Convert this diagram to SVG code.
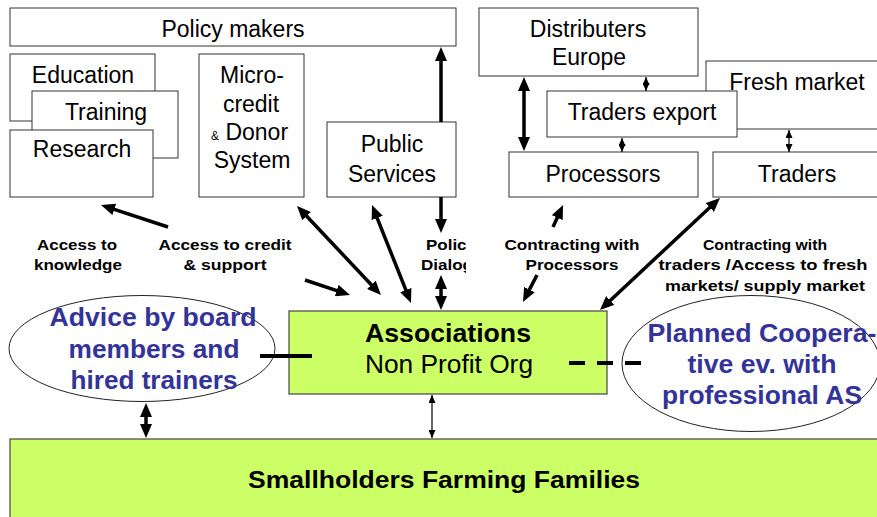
<svg xmlns="http://www.w3.org/2000/svg" width="877" height="517" viewBox="0 0 877 517">
<style>
.box{fill:#fff;stroke:#333;stroke-width:1}
.green{fill:#ccff66;stroke:#444;stroke-width:1.2}
.ellipse{fill:#fff;stroke:#222;stroke-width:1}
.lbl{font-family:"Liberation Sans",Arial,sans-serif;font-size:23px;fill:#000;text-anchor:middle}
.sm{font-family:"Liberation Sans",Arial,sans-serif;font-size:15px;font-weight:bold;fill:#000;text-anchor:middle}
.ell{font-family:"Liberation Sans",Arial,sans-serif;font-size:25px;font-weight:bold;fill:#333399;text-anchor:middle}
.big{font-family:"Liberation Sans",Arial,sans-serif;font-size:25px;fill:#000;text-anchor:middle}
.thick{stroke:#000;stroke-width:3.5;fill:none;marker-end:url(#ah)}
.dbl{marker-start:url(#ah)}
.thin{stroke:#000;stroke-width:1.2;fill:none;marker-start:url(#sh);marker-end:url(#sh)}
</style>
<defs>
<marker id="ah" viewBox="0 0 14 12" refX="4" refY="6" markerWidth="14" markerHeight="12" markerUnits="userSpaceOnUse" orient="auto-start-reverse">
<path d="M0,0 L14,6 L0,12 z" fill="#000"/>
</marker>
<marker id="sh" viewBox="0 0 8 7" refX="8" refY="3.5" markerWidth="8" markerHeight="7" markerUnits="userSpaceOnUse" orient="auto-start-reverse">
<path d="M0,0 L8,3.5 L0,7 z" fill="#000"/>
</marker>
<clipPath id="clipPol"><rect x="400" y="230" width="66" height="50"/></clipPath>
</defs>

<g id="policy-makers"><rect class="box" x="10" y="8" width="446" height="38"/><text class="lbl" x="233" y="37">Policy makers</text></g>
<g id="education"><rect class="box" x="10" y="54" width="145" height="67"/><text class="lbl" x="83" y="83">Education</text></g>
<g id="training"><rect class="box" x="32" y="91" width="146" height="67"/><text class="lbl" x="106" y="120">Training</text></g>
<g id="research"><rect class="box" x="10" y="130" width="143" height="67"/><text class="lbl" x="82" y="157">Research</text></g>
<g id="microcredit"><rect class="box" x="199" y="54" width="105" height="143"/>
<text class="lbl" x="252" y="83">Micro-</text><text class="lbl" x="251" y="112">credit</text>
<text class="lbl" x="211" y="140" style="text-anchor:start"><tspan font-size="12">&amp;</tspan> Donor</text>
<text class="lbl" x="252" y="168">System</text></g>
<g id="public-services"><rect class="box" x="327" y="122" width="129" height="75"/><text class="lbl" x="392" y="152">Public</text><text class="lbl" x="392" y="182">Services</text></g>
<g id="distributers"><rect class="box" x="479" y="8" width="219" height="68"/><text class="lbl" x="588" y="37">Distributers</text><text class="lbl" x="589" y="65">Europe</text></g>
<g id="fresh-market"><rect class="box" x="706" y="61" width="180" height="68"/><text class="lbl" x="797" y="90">Fresh market</text></g>
<g id="traders-export"><rect class="box" x="547" y="91" width="190" height="46"/><text class="lbl" x="642" y="120">Traders export</text></g>
<g id="processors"><rect class="box" x="509" y="152" width="189" height="45"/><text class="lbl" x="603" y="182">Processors</text></g>
<g id="traders"><rect class="box" x="713" y="152" width="170" height="45"/><text class="lbl" x="797" y="182">Traders</text></g>

<g id="label-knowledge"><text class="sm" x="77" y="250" textLength="80" lengthAdjust="spacingAndGlyphs">Access to</text><text class="sm" x="78" y="270" textLength="88" lengthAdjust="spacingAndGlyphs">knowledge</text></g>
<g id="label-credit"><text class="sm" x="225" y="250" textLength="133" lengthAdjust="spacingAndGlyphs">Access to credit</text><text class="sm" x="225" y="270" textLength="83" lengthAdjust="spacingAndGlyphs">&amp; support</text></g>
<g id="label-policy" clip-path="url(#clipPol)"><text class="sm" x="426" y="250" style="text-anchor:start" textLength="50" lengthAdjust="spacingAndGlyphs">Policy</text><text class="sm" x="421" y="270" style="text-anchor:start" textLength="52" lengthAdjust="spacingAndGlyphs">Dialog</text></g>
<g id="label-processors"><text class="sm" x="572" y="250" textLength="135" lengthAdjust="spacingAndGlyphs">Contracting with</text><text class="sm" x="572" y="270" textLength="93" lengthAdjust="spacingAndGlyphs">Processors</text></g>
<g id="label-traders"><text class="sm" x="765" y="250" textLength="124" lengthAdjust="spacingAndGlyphs">Contracting with</text><text class="sm" x="763" y="270" textLength="209" lengthAdjust="spacingAndGlyphs">traders /Access to fresh</text><text class="sm" x="765" y="291" textLength="200" lengthAdjust="spacingAndGlyphs">markets/ supply market</text></g>

<g id="advice"><ellipse class="ellipse" cx="142" cy="348.5" rx="133" ry="53"/>
<text class="ell" x="153" y="326" textLength="207" lengthAdjust="spacingAndGlyphs">Advice by board</text>
<text class="ell" x="154" y="358" textLength="171" lengthAdjust="spacingAndGlyphs">members and</text>
<text class="ell" x="154" y="389" textLength="167" lengthAdjust="spacingAndGlyphs">hired trainers</text></g>
<g id="planned-coop"><ellipse class="ellipse" cx="751" cy="363.5" rx="129" ry="68"/>
<text class="ell" x="762" y="342" textLength="229" lengthAdjust="spacingAndGlyphs">Planned Coopera-</text>
<text class="ell" x="762" y="373" textLength="149" lengthAdjust="spacingAndGlyphs">tive ev. with</text>
<text class="ell" x="762" y="404" textLength="200" lengthAdjust="spacingAndGlyphs">professional AS</text></g>
<g id="associations"><rect class="green" x="289" y="311" width="318" height="83"/>
<text class="big" x="448" y="342" font-weight="bold" textLength="166" lengthAdjust="spacingAndGlyphs">Associations</text>
<text class="big" x="449" y="373" textLength="168" lengthAdjust="spacingAndGlyphs">Non Profit Org</text></g>
<g id="smallholders"><rect class="green" x="10" y="439" width="880" height="90"/>
<text class="big" x="444" y="488" font-weight="bold" font-size="23" style="font-size:23px" textLength="392" lengthAdjust="spacingAndGlyphs">Smallholders Farming Families</text></g>

<g id="connectors">
<path class="thick dbl" d="M441,57 V122 M441,197 V223"/>
<path class="thick dbl" d="M441,285 V300"/>
<path class="thick" d="M168,227 L110.5,208.1"/>
<path class="thick" d="M305,280 L340.5,291.8"/>
<path class="thick dbl" d="M303.9,213.3 L374.1,287.7"/>
<path class="thick dbl" d="M375.7,214.3 L407.3,293.7"/>
<path class="thick" d="M553,227 L558.9,214.1"/>
<path class="thick" d="M537,275 L527.6,293.1"/>
<path class="thick dbl" d="M712.7,204.8 L607.3,303.2"/>
<path class="thick dbl" d="M524,87 V141"/>
<path class="thick dbl" d="M146,413 V428"/>
<path class="thin" d="M646,77 V91"/>
<path class="thin" d="M622,138 V152"/>
<path class="thin" d="M789,130 V152"/>
<path class="thin" d="M432,395 V438"/>
<path d="M260,356 H312" stroke="#000" stroke-width="4"/>
<path d="M569,363 H642" stroke="#000" stroke-width="4" stroke-dasharray="16 12"/>
</g>
</svg>
